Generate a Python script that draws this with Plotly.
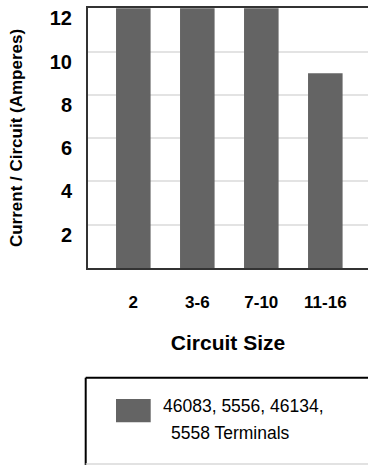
import plotly.graph_objects as go

categories = ["2", "3-6", "7-10", "11-16"]
current_amps = [12, 12, 12, 9]
y_ticks = [2, 4, 6, 8, 10, 12]
series_name = "46083, 5556, 46134, 5558 Terminals"
legend_line1 = "46083, 5556, 46134,"
legend_line2 = "5558 Terminals"

W, H = 368, 465
ML, MR, MT, MB = 88, 0, 8, 197
PW, PH = W - ML - MR, H - MT - MB
BAR = "#646464"
FONT = "Liberation Sans, Arial, sans-serif"


def px(x):
    return (x - ML) / PW


def py(y):
    return (H - MB - y) / PH


fig = go.Figure()
fig.add_trace(go.Bar(
    x=list(range(len(categories))), y=current_amps, name=series_name,
    marker=dict(color=BAR, line=dict(width=0)), width=0.54, showlegend=False,
))

fig.update_layout(
    width=W, height=H,
    margin=dict(l=ML, r=MR, t=MT, b=MB, pad=0, autoexpand=False),
    paper_bgcolor="white", plot_bgcolor="white",
    font=dict(family=FONT, color="#000"),
    xaxis=dict(
        range=[-0.708, 3.667], tickmode="array",
        tickvals=list(range(len(categories))), ticktext=categories,
        tickfont=dict(size=17, family=FONT, weight="bold"),
        showgrid=False, zeroline=False,
        showline=True, linecolor="#333", linewidth=2, mirror=True,
        ticks="", ticklabelstandoff=18, automargin=False,
        title=dict(text="<b>Circuit Size</b>", font=dict(size=21, family=FONT), standoff=24),
        fixedrange=True,
    ),
    yaxis=dict(
        range=[0, 12.01], tickmode="array", tickvals=y_ticks,
        tickfont=dict(size=20, family=FONT, weight="bold"),
        showgrid=True, gridcolor="#e3e3e3", gridwidth=1.5, zeroline=False,
        showline=True, linecolor="#333", linewidth=2,
        ticks="", ticklabelstandoff=10, ticklabelshift=10, automargin=False,
        title=dict(text="<b>Current / Circuit (Amperes)</b>", font=dict(size=17, family=FONT), standoff=23),
        fixedrange=True,
    ),
)

# legend box
fig.add_shape(type="line", xref="paper", yref="paper", x0=px(85.7), x1=px(400), y0=py(377.7), y1=py(377.7),
              line=dict(color="#000", width=2))
fig.add_shape(type="line", xref="paper", yref="paper", x0=px(85.7), x1=px(85.7), y0=py(377.7), y1=py(465),
              line=dict(color="#000", width=2))
fig.add_shape(type="line", xref="paper", yref="paper", x0=px(85.7), x1=px(400), y0=py(464), y1=py(464),
              line=dict(color="#d8d8d8", width=1.5))
fig.add_shape(type="rect", xref="paper", yref="paper", x0=px(116), x1=px(150.7), y0=py(399), y1=py(422.3),
              line=dict(width=0), fillcolor=BAR)
fig.add_annotation(xref="paper", yref="paper", x=px(161), y=py(406), xanchor="left", yanchor="middle",
                   text=legend_line1, showarrow=False, font=dict(size=17.5, family=FONT, color="#000"))
fig.add_annotation(xref="paper", yref="paper", x=px(168.5), y=py(433), xanchor="left", yanchor="middle",
                   text=legend_line2, showarrow=False, font=dict(size=17.5, family=FONT, color="#000"))

fig.write_html("out.html", config={"displayModeBar": False},
               post_script="document.body.style.margin='0';document.body.style.overflow='hidden';")
